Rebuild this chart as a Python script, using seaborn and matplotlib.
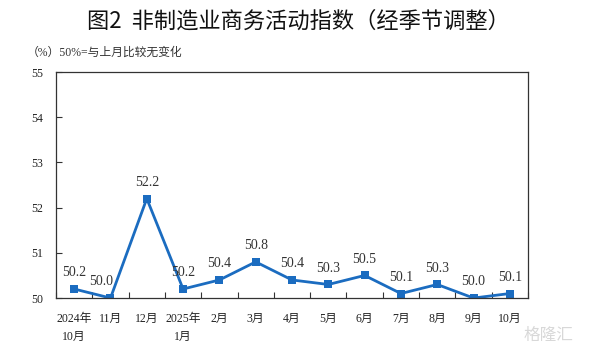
import matplotlib
matplotlib.use("Agg")
import matplotlib.pyplot as plt
import seaborn as sns
import pandas as pd
import numpy as np

months = ["2024年\n10月", "11月", "12月", "2025年\n1月", "2月", "3月", "4月", "5月", "6月", "7月", "8月", "9月", "10月"]
values = [50.2, 50.0, 52.2, 50.2, 50.4, 50.8, 50.4, 50.3, 50.5, 50.1, 50.3, 50.0, 50.1]
yticks = [50, 51, 52, 53, 54, 55]

sns.set_theme(style="white")
plt.rcParams['font.family'] = ['Liberation Serif', 'Noto Sans CJK SC', 'DejaVu Sans']

df = pd.DataFrame({"x": np.arange(len(values)), "v": values})

fig = plt.figure(figsize=(5.91, 3.49), dpi=100)
ax = fig.add_axes([0.0948, 0.146, 0.7986, 0.6476])
color = "#1b6cc0"
sns.lineplot(data=df, x="x", y="v", ax=ax, color=color, lw=2.0, marker="s",
             markersize=5.5, markeredgewidth=0, markerfacecolor=color)
for i, v in enumerate(values):
    dx = -7 if i == 1 else 0
    ax.annotate(f"{v:.1f}", (i, v), xytext=(dx, 7), textcoords="offset points",
                ha="center", va="bottom", fontsize=10, color="#333333",
                family=['Liberation Serif'])

ax.set_xlim(-0.5, len(values) - 0.5)
ax.set_ylim(50, 55)
ax.set_yticks(yticks)
ax.set_yticklabels([str(t) for t in yticks])
ax.set_xticks(np.arange(len(values)))
ax.set_xticklabels(months, linespacing=1.6)
ax.set_xticks(np.arange(len(values) + 1) - 0.5, minor=True)
ax.tick_params(axis="x", which="major", length=0, pad=11, labelsize=8.5, labelcolor="#222222")
ax.tick_params(axis="x", which="minor", direction="in", length=4, width=0.8, color="#333333", bottom=True)
ax.tick_params(axis="y", which="major", direction="in", length=4, width=0.8, color="#333333",
               left=True, labelsize=8.5, labelcolor="#222222", pad=18)
for lab in ax.get_yticklabels():
    lab.set_horizontalalignment("left")
ax.set_xlabel("")
ax.set_ylabel("")
for s in ax.spines.values():
    s.set_color("#333333")
    s.set_linewidth(0.9)

fig.text(0.505, 0.94, "图2  非制造业商务活动指数（经季节调整）", ha="center", va="center",
         fontsize=16, family=['Noto Sans CJK SC'], color="#111111")
fig.text(0.046, 0.848, "（%）50%=与上月比较无变化", ha="left", va="center",
         fontsize=8.5, family=['Liberation Serif', 'Noto Sans CJK SC'], color="#333333")
fig.text(0.885, 0.038, "格隆汇", ha="left", va="center", fontsize=12,
         family=['Noto Sans CJK SC'], color="#d8d8d8")

fig.savefig("out.png", dpi=100)
